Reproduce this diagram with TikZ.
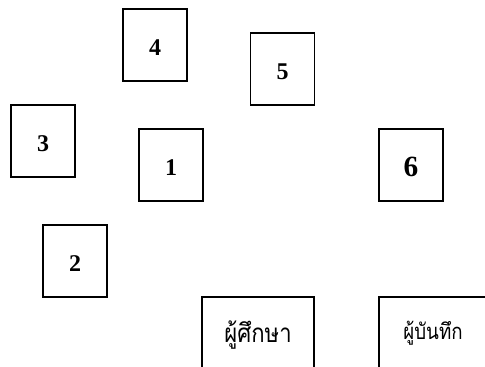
\documentclass[tikz,border=0pt]{standalone}
\usepackage{fontspec}
\setmainfont{Liberation Serif}
\newfontfamily\thaifont[Script=Thai, FakeStretch=0.85]{Loma}

\begin{document}
\begin{tikzpicture}[x=0.75pt, y=-0.75pt,
  box/.style={rectangle, draw, line width=1.4pt, minimum width=48pt, minimum height=54pt, inner sep=0pt,
    font=\fontsize{18}{18}\selectfont\bfseries, text height=16pt, text depth=0pt},
  namebox/.style={rectangle, draw, line width=1.4pt, inner sep=0pt}]
\useasboundingbox (0,0) rectangle (485,367);
\clip (0,0) rectangle (485,367);
% --- Numbered boxes ---
\node[box] (b4) at (155,45) {4};
\node[box] (b5) at (282.5,69) {5};
\node[box] (b3) at (43,141) {3};
\node[box] (b1) at (171,165) {1};
\node[box, font=\fontsize{22}{22}\selectfont\bfseries, text height=17pt] (b6) at (411,165) {6};
\node[box] (b2) at (75,261) {2};
%
% --- Bottom boxes (cut by the edge) ---
\node[namebox, minimum width=84pt, minimum height=57pt, font=\thaifont\fontsize{19.5}{19.5}\selectfont] (learner) at (258,335) {ผู้ศึกษา};
\node[namebox, minimum width=81pt, minimum height=54pt, font=\thaifont\fontsize{16.5}{16.5}\selectfont] (recorder) at (433,333) {ผู้บันทึก};
%
\end{tikzpicture}
\end{document}
